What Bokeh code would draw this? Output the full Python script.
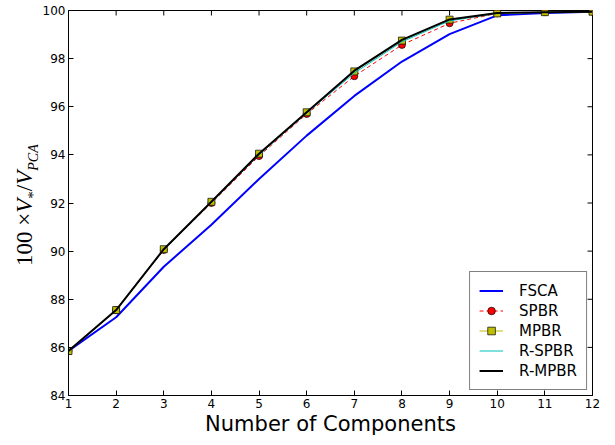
from bokeh.plotting import figure
from bokeh.models import Range1d, Legend, LegendItem, FixedTicker, Div
from bokeh.layouts import row
from bokeh.embed import file_html
from bokeh.resources import INLINE

components = [1, 2, 3, 4, 5, 6, 7, 8, 9, 10, 11, 12]
fsca = [85.85, 87.25, 89.35, 91.1, 93.0, 94.8, 96.45, 97.88, 99.02, 99.8, 99.9, 99.95]
spbr = [85.85, 87.55, 90.05, 92.0, 93.95, 95.7, 97.27, 98.57, 99.47, 99.88, 99.93, 99.95]
mpbr = [85.85, 87.55, 90.08, 92.05, 94.05, 95.77, 97.47, 98.75, 99.62, 99.88, 99.93, 99.95]
r_spbr = [85.85, 87.55, 90.07, 92.03, 94.0, 95.74, 97.4, 98.7, 99.57, 99.88, 99.93, 99.95]
r_mpbr = [85.85, 87.55, 90.08, 92.05, 94.05, 95.77, 97.5, 98.78, 99.63, 99.9, 99.93, 99.95]
x_ticks = list(range(1, 13))
y_ticks = list(range(84, 101, 2))
x_label = "Number of Components"

X0, X1, Y0, Y1 = 1, 12, 84, 100
DIVW = 38
FL, FT, FR, FB = 30, 10, 23, 50   # borders around the frame (figure part)
W, H = 615 - DIVW, 445
FW, FH = W - FL - FR, H - FT - FB

p = figure(width=W, height=H, output_backend="svg", toolbar_location=None,
           x_range=Range1d(X0, X1), y_range=Range1d(Y0, Y1),
           min_border_left=FL, min_border_right=FR, min_border_top=FT, min_border_bottom=FB)
p.background_fill_color = "white"
p.border_fill_color = "white"
p.outline_line_color = "black"
p.outline_line_width = 1
p.grid.visible = False

for ax in (p.xaxis[0], p.yaxis[0]):
    ax.major_tick_in = 5
    ax.major_tick_out = 0
    ax.minor_tick_line_color = None
    ax.axis_line_color = "black"
    ax.major_tick_line_color = "black"
    ax.major_label_text_font = "DejaVu Sans"
    ax.major_label_text_font_size = "12px"
    ax.major_label_text_color = "black"
p.xaxis[0].ticker = FixedTicker(ticks=x_ticks)
p.yaxis[0].ticker = FixedTicker(ticks=y_ticks)
p.xaxis[0].major_label_standoff = 3
p.yaxis[0].major_label_standoff = 3
p.xaxis[0].axis_label = x_label
p.xaxis[0].axis_label_text_font = "DejaVu Sans"
p.xaxis[0].axis_label_text_font_style = "normal"
p.xaxis[0].axis_label_text_font_size = "21px"
p.xaxis[0].axis_label_text_color = "black"
p.xaxis[0].axis_label_standoff = 1

# inward ticks on the top and right spines (5 px long)
tx = 5 / FW * (X1 - X0)
ty = 5 / FH * (Y1 - Y0)
p.segment(x0=x_ticks, y0=[Y1] * len(x_ticks), x1=x_ticks, y1=[Y1 - ty] * len(x_ticks),
          line_color="black", line_width=1)
p.segment(x0=[X1] * len(y_ticks), y0=y_ticks, x1=[X1 - tx] * len(y_ticks), y1=y_ticks,
          line_color="black", line_width=1)

r1 = p.line(components, fsca, line_color="#0000ff", line_width=2)
r2a = p.line(components, spbr, line_color="#ff0000", line_width=1, line_dash="4 3")
r2b = p.scatter(components, spbr, marker="circle", size=7, fill_color="#ff0000", line_color="black", line_width=0.7)
r3a = p.line(components, mpbr, line_color="#bfbf00", line_width=1)
r3b = p.scatter(components, mpbr, marker="square", size=7, fill_color="#bfbf00", line_color="black", line_width=0.7)
r4 = p.line(components, r_spbr, line_color="#00bfbf", line_width=1)
r5 = p.line(components, r_mpbr, line_color="black", line_width=2)

legend = Legend(items=[
    LegendItem(label="FSCA", renderers=[r1]),
    LegendItem(label="SPBR", renderers=[r2a, r2b]),
    LegendItem(label="MPBR", renderers=[r3a, r3b]),
    LegendItem(label="R-SPBR", renderers=[r4]),
    LegendItem(label="R-MPBR", renderers=[r5]),
], location="bottom_right")
legend.margin = 5
legend.padding = 9
legend.spacing = 1
legend.label_height = 19
legend.glyph_height = 19
legend.glyph_width = 24
legend.label_standoff = 16
legend.label_text_font = "DejaVu Sans"
legend.label_text_font_size = "15px"
legend.label_text_color = "black"
legend.border_line_color = "black"
legend.border_line_width = 1
legend.background_fill_alpha = 1.0
p.add_layout(legend)

ylabel_html = (
    '<div style="position:relative;width:%dpx;height:%dpx;">'
    '<div style="position:absolute;left:13px;top:266px;transform:rotate(-90deg);'
    'transform-origin:0 0;white-space:nowrap;font-family:\'Liberation Serif\';'
    'font-size:23px;line-height:23px;color:black;">'
    '100 &times;<i>V</i><sub style="font-size:15px;">*</sub>/<i>V</i>'
    '<sub style="font-size:14px;"><i>PCA</i></sub></div></div>'
) % (DIVW, H)
ylab = Div(text=ylabel_html, width=DIVW, height=H, margin=0)

layout = row(ylab, p, spacing=0, margin=0)
open("out.html", "w").write(file_html(layout, INLINE))
